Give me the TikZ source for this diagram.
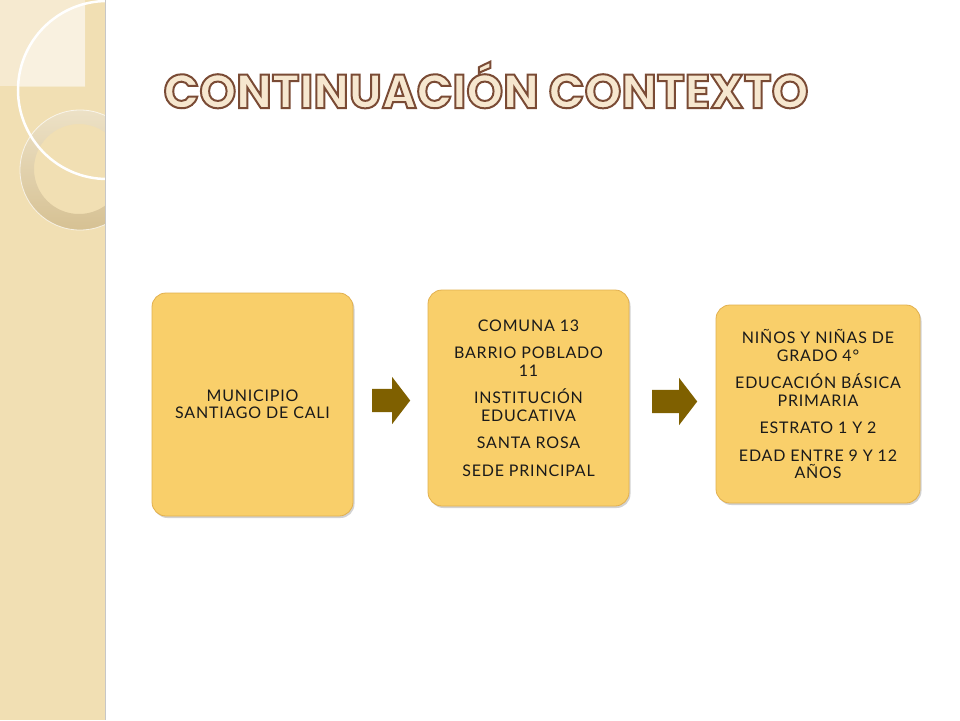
\documentclass[tikz,border=0pt]{standalone}
\usepackage{fontspec}
\setmainfont{Lato}[LetterSpace=5]
\newfontfamily\titlefont{Poppins Bold}
\usetikzlibrary{shadows,shapes.arrows}
\definecolor{panel}{HTML}{F1DFB3}
\definecolor{panellight}{HTML}{F6EAD0}
\definecolor{ringc}{HTML}{E0CDA0}
\definecolor{ringdark}{HTML}{D6C193}
\definecolor{boxfill}{HTML}{F9CF6A}
\definecolor{boxedge}{HTML}{E2B04E}
\definecolor{arrowc}{HTML}{7F6000}
\definecolor{titlefill}{HTML}{F6E7CF}
\definecolor{txt}{HTML}{1A1A1A}
\newcommand{\outlineon}{\special{pdf:literal direct 2 Tr 2 w 0.478 0.294 0.208 RG}}
\newcommand{\outlineoff}{\special{pdf:literal direct 0 Tr}}
\tikzset{
  infobox/.style={draw=boxedge, line width=0.8pt, fill=boxfill, rounded corners=14pt,
    drop shadow={shadow xshift=1.5pt, shadow yshift=-2pt, opacity=0.35},
    align=center, text=txt, inner sep=4pt, font=\fontsize{16}{17.5}\selectfont},
  blockarrow/.style={single arrow, fill=arrowc, draw=none, inner xsep=0pt, inner ysep=11.5pt,
    single arrow head extend=12pt, single arrow tip angle=105, anchor=west}
}
\begin{document}
\begin{tikzpicture}[x=1pt,y=-1pt]
\useasboundingbox (0,0) rectangle (960,720);
\fill[white] (0,0) rectangle (960,720);
% left panel
\fill[panel] (0,0) rectangle (105,720);
\begin{scope}
\clip (0,0) rectangle (105,720);
\fill[panellight] (0,0) rectangle (85,86);
\begin{scope}
\clip (0,0) rectangle (85,86);
\fill[white,opacity=0.35] (107,90) circle[radius=89];
\end{scope}
\shade[even odd rule, top color=ringc!60!white, bottom color=ringdark] (80,170) circle[radius=60] (79,169) circle[radius=45];
\draw[white,line width=0.8pt,opacity=0.7] (80,170) circle[radius=60];
\draw[white,line width=2.5pt] (107,90) circle[radius=89];
\end{scope}
\draw[color=black!22,line width=1.2pt] (105.5,0) -- (105.5,720);
% title
\node[text=titlefill, inner sep=0pt] (title) at (486,85) {\resizebox{645pt}{\height}{\titlefont\fontsize{47.5}{52}\selectfont\outlineon CONTINUACIÓN CONTEXTO\outlineoff}};
% boxes
\node[infobox, minimum width=201pt, minimum height=223pt] (b1) at (252.5,404.5)
  {MUNICIPIO\\SANTIAGO DE CALI};
\node[infobox, minimum width=201pt, minimum height=216pt] (b2) at (528.5,398)
  {COMUNA 13\\[10pt]BARRIO POBLADO\\11\\[10pt]INSTITUCIÓN\\EDUCATIVA\\[10pt]SANTA ROSA\\[10pt]SEDE PRINCIPAL};
\node[infobox, minimum width=204pt, minimum height=198pt] (b3) at (818,404)
  {NIÑOS Y NIÑAS DE\\GRADO 4°\\[10pt]EDUCACIÓN BÁSICA\\PRIMARIA\\[10pt]ESTRATO 1 Y 2\\[10pt]EDAD ENTRE 9 Y 12\\AÑOS};
% arrows
\node[blockarrow, minimum height=38pt] (a1) at (372,400.5) {};
\node[blockarrow, minimum height=45pt] (a2) at (652,401.5) {};
\end{tikzpicture}
\end{document}
